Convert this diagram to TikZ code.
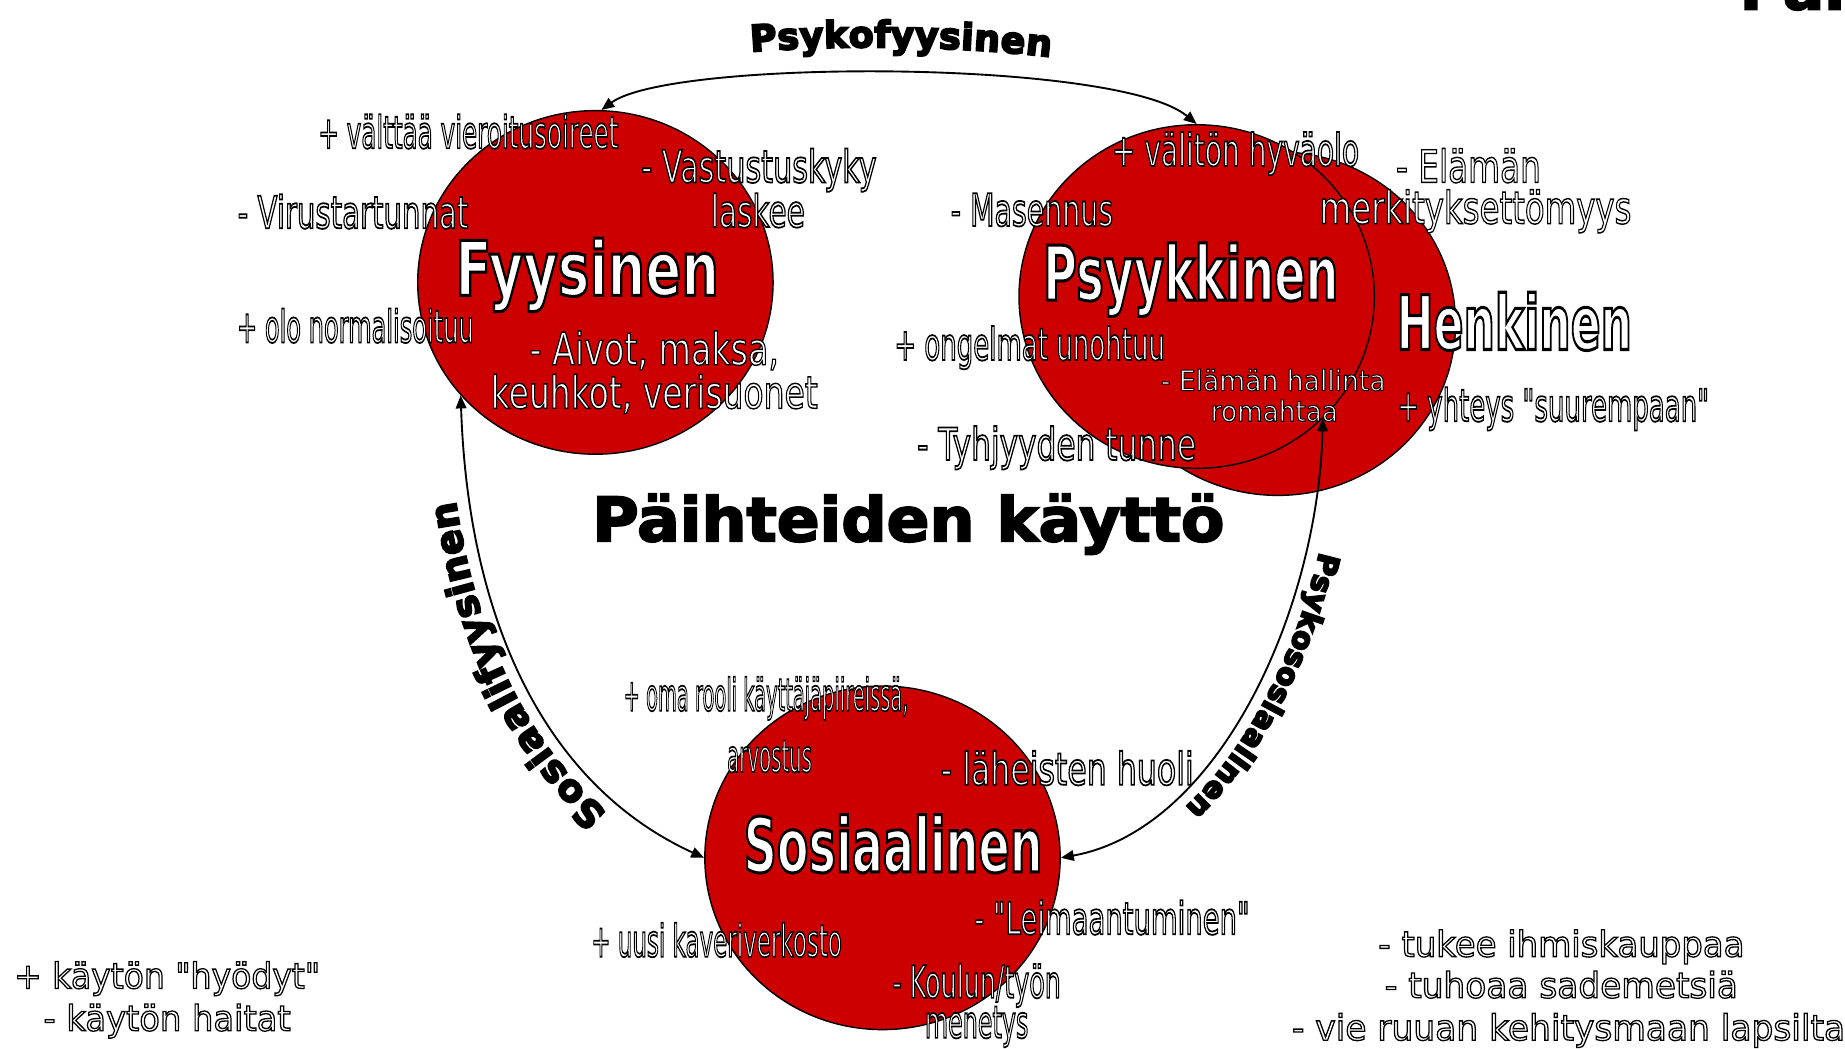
\documentclass[tikz,border=0pt]{standalone}
\usepackage{fontspec}
\setmainfont{DejaVu Sans}[Ligatures=TeXOff]
\newfontfamily\heavy{DejaVu Sans}[Ligatures=TeXOff]
\usepackage{graphicx}
\usetikzlibrary{shapes.geometric,arrows.meta,decorations.text}
\definecolor{cred}{RGB}{204,0,0}
\newcommand\OL[3][0.75]{\resizebox{#2pt}{\height}{\special{pdf:literal direct q 2 Tr #1 w 0 G 1 g}#3\special{pdf:literal direct Q}}}
\newcommand\emb{\special{pdf:literal direct 2 Tr 0.8 w 0 G}}
\begin{document}
\begin{tikzpicture}[x=0.5pt,y=-0.5pt,
  circ/.style={ellipse,draw=black,line width=0.6pt,fill=cred,minimum width=151pt,minimum height=146pt,inner sep=0pt},
  sm/.style={anchor=base,inner sep=0pt,font=\fontsize{19pt}{21pt}\selectfont},
  tiny/.style={anchor=base,inner sep=0pt,font=\fontsize{12pt}{14pt}\selectfont},
  bot/.style={anchor=base,inner sep=0pt,font=\fontsize{15pt}{17pt}\selectfont},
  big/.style={anchor=base,inner sep=0pt,font=\bfseries\fontsize{32pt}{34pt}\selectfont},
  arr/.style={line width=0.8pt,{Triangle[length=5.5pt,width=4.5pt]}-{Triangle[length=5.5pt,width=4.5pt]}},
  curv/.style={decorate,decoration={text along path,text align=center,raise=#1}}
]
\useasboundingbox (0,0) rectangle (1568,891);

% circles
\node[circ] (he) at (1086,275) {};
\node[circ] (ps) at (1017,252) {};
\node[circ] (fy) at (506,240) {};
\node[circ] (so) at (750,729) {};

% connectors
\draw[arr] (fy.88) .. controls (570,50) and (950,50) .. (ps.north);
\draw[arr] (so.west) .. controls (465,668) and (398,530) .. (fy.220);
\draw[arr] (ps.-44) .. controls (1120,520) and (1035,705) .. (so.east);

% Fyysinen
\node[sm] (a1) at (398,126) {\OL{127.5}{+ välttää vieroitusoireet}};
\node[sm] (a2) at (645,155) {\OL{100}{- Vastustuskyky}};
\node[sm] (a3) at (644,193) {\OL{40}{laskee}};
\node[sm] (a4) at (300,194) {\OL{98}{- Virustartunnat}};
\node[sm] (a5) at (302,291) {\OL{100.5}{+ olo normalisoituu}};
\node[sm] (a6) at (556,310) {\OL[0.6]{106}{- Aivot, maksa,}};
\node[sm] (a7) at (556,347) {\OL[0.6]{139}{keuhkot, verisuonet}};
\node[big] (fyl) at (499,251) {\OL[1.3]{112}{Fyysinen}};

% Psyykkinen / Henkinen
\node[sm] (b1) at (1050,141) {\OL{105}{+ välitön hyväolo}};
\node[sm] (b2) at (877,192) {\OL{69}{- Masennus}};
\node[sm] (b3) at (875,306) {\OL{115}{+ ongelmat unohtuu}};
\node[tiny] (b4) at (1082,332) {\OL[0.45]{95.5}{- Elämän hallinta}};
\node[tiny] (b5) at (1083,358) {\OL[0.45]{54}{romahtaa}};
\node[sm] (b6) at (898,391) {\OL{118.5}{- Tyhjyyden tunne}};
\node[sm] (b7) at (1248,155) {\OL[0.6]{61.5}{- Elämän}};
\node[sm] (b8) at (1254,190) {\OL[0.6]{132.5}{merkityksettömyys}};
\node[sm] (b9) at (1320,358) {\OL{132.5}{+ yhteys "suurempaan"}};
\node[big] (psl) at (1012,255) {\OL[1.3]{125.5}{Psyykkinen}};
\node[big] (hel) at (1287,297) {\OL[1.3]{100}{Henkinen}};

% Sosiaalinen
\node[sm] (c1) at (651,604) {\OL{121}{+ oma rooli käyttäjäpiireissä,}};
\node[sm] (c2) at (654,656) {\OL{36}{arvostus}};
\node[sm] (c3) at (907,667) {\OL{107.5}{- läheisten huoli}};
\node[sm] (c4) at (945,794) {\OL{117}{- "Leimaantuminen"}};
\node[sm] (c5) at (609,813) {\OL{106.5}{+ uusi kaveriverkosto}};
\node[sm] (c6) at (830,848) {\OL{71.5}{- Koulun/työn}};
\node[sm] (c7) at (830,882) {\OL{44}{menetys}};
\node[big] (sol) at (759,741) {\OL[1.3]{127}{Sosiaalinen}};

% bottom texts
\node[bot] (d1) at (142,840) {\OL[0.55]{130}{+ käytön "hyödyt"}};
\node[bot] (d2) at (142,876) {\OL[0.55]{105}{- käytön haitat}};
\node[bot] (e1) at (1327,813) {\OL[0.55]{155.5}{- tukee ihmiskauppaa}};
\node[bot] (e2) at (1327,848) {\OL[0.55]{150}{- tuhoaa sademetsiä}};
\node[bot] (e3) at (1333,884) {\OL[0.55]{235}{- vie ruuan kehitysmaan lapsilta}};

% title
\node[anchor=base,inner sep=0pt,font=\heavy\bfseries\fontsize{26pt}{28pt}\selectfont] (title) at (772,460) {\resizebox{268.5pt}{\height}{\emb Päihteiden käyttö}};

% top-right cut-off fragment
\node[anchor=base west,inner sep=0pt,font=\heavy\bfseries\fontsize{26pt}{28pt}\selectfont] (frag) at (1478,8) {\emb Pane};

% curved labels
\path[curv=11pt,decoration={text={|\heavy\bfseries\fontsize{15.5pt}{16pt}\selectfont\emb|Psykofyysinen}}]
  (fy.88) .. controls (570,50) and (950,50) .. (ps.north);
\path[curv=6pt,decoration={text={|\heavy\bfseries\fontsize{16pt}{16pt}\selectfont\emb|Sosiaalifyysinen}}]
  (so.west) .. controls (465,668) and (398,530) .. (fy.220);
\path[curv=6pt,decoration={text={|\heavy\bfseries\fontsize{12.5pt}{13pt}\selectfont\emb|Psykososiaalinen}}]
  (ps.-44) .. controls (1120,520) and (1035,705) .. (so.east);
\end{tikzpicture}
\end{document}
